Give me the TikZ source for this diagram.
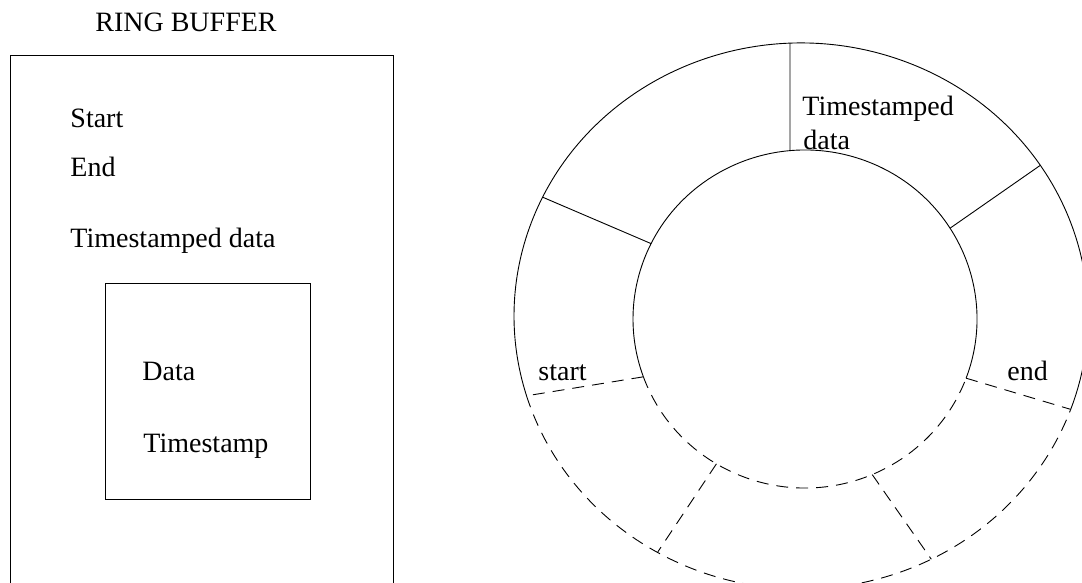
\documentclass[tikz,border=0pt]{standalone}
\usepackage{fontspec}
\setmainfont{Liberation Serif}
\usepackage{tikz}
\usetikzlibrary{calc}

\begin{document}
\begin{tikzpicture}[x=1pt, y=1pt, line width=0.9pt,
		txt/.style = {font=\fontsize{28}{34}\selectfont,
			inner sep=0pt, anchor=base west},
		gap/.style = {dash pattern=on 12pt off 8pt}]
	
	\useasboundingbox (0,0) rectangle (1082,582);
	\clip (0,0) rectangle (1082,582);
	
	% Ring buffer record
	\node[txt, anchor=base] (title) at (186,550) {RING BUFFER};
	\draw (10,-10) rectangle (393,527);
	\node[txt] (start) at (70,454) {Start};
	\node[txt] (end) at (70,405) {End};
	\node[txt] (stamped) at (70,334) {Timestamped data};
	
	% One entry
	\draw (105,83) rectangle (310,299);
	\node[txt] (data) at (142,202) {Data};
	\node[txt] (stamp) at (143,130) {Timestamp};
	
	% Ring
	\coordinate (ci) at (805,263);
	\coordinate (co) at (801,266);
	
	\draw[shift={(ci)}] (-20.5:172 and 169)
		arc[start angle=-20.5, end angle=200, x radius=172, y radius=169];
	\draw[shift={(co)}] (-20:287 and 273)
		arc[start angle=-20, end angle=197, x radius=287, y radius=273];
	\draw[gap, shift={(ci)}] (200:172 and 169)
		arc[start angle=200, end angle=339.5, x radius=172, y radius=169];
	\draw[gap, shift={(co)}] (197:287 and 273)
		arc[start angle=197, end angle=340, x radius=287, y radius=273];
	
	% Cell borders
	\foreach \n/\ai/\ao in {a/95/92.2, b/153.5/154.2, c/32.5/33.5}{
		\coordinate (in\n) at ($(ci)+(\ai:172 and 169)$);
		\coordinate (out\n) at ($(co)+(\ao:287 and 273)$);
		\draw (in\n) -- (out\n);
	}
	\foreach \n/\ai/\ao in {d/200/197, e/-20.5/-20, f/239/240, g/-67/-63}{
		\coordinate (in\n) at ($(ci)+(\ai:172 and 169)$);
		\coordinate (out\n) at ($(co)+(\ao:287 and 273)$);
		\draw[gap] (in\n) -- (out\n);
	}
	
	\node[txt] (cell) at (802,466) {Timestamped};
	\node[txt] (cell2) at (803,432) {data};
	\node[txt] (head) at (538,202) {start};
	\node[txt] (tail) at (1007,202) {end};
\end{tikzpicture}
\end{document}
